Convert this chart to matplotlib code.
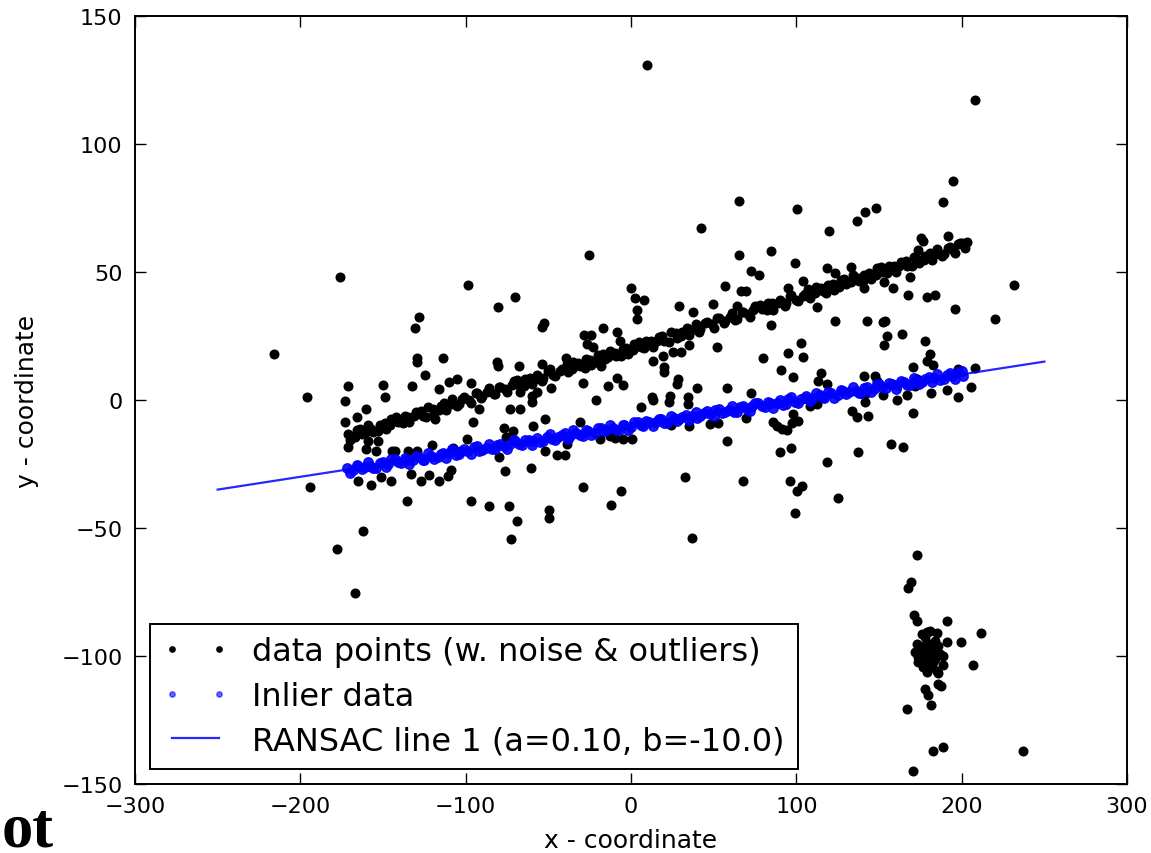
import numpy as np
import matplotlib
matplotlib.use("Agg")
import matplotlib.pyplot as plt

# scattered outliers
outlier_x = [-176, -216, -196, -171, -150, -173, -149, -160, -166, -173, -171, -160, -154,
             -153, -159, -194, -165, -157.5, -151.4, -162, -178, -167,
             -25.4, -98.4, -70.4, -80.2, -128.4, -130.9, -54, -52.4, 0, 2.4, 3.4, 3.4,
             -129.7, -129.5, -113.9, -124.6, -132.3, -116.1, -110.1, -105.5, -97,
             -81.3, -80.2, -68, -53.9, -39.5, -35.2, -28.2, -24.4, -26.8, -22.8, -17.1,
             -8.7, -6.7, -18.1, -29.2, -14.1, -8.7, -5, -21, -48.6, -60.1, -57.1, -67.2,
             -73.2, -67.2, -60.1, -91.9, -95.3, -52.3, -118.6, -144.8, -142.8,
             -134.7, -129.7, -120.2, -107.8, -103.8, -99.4, -76.8, -71.1, -75.8, -59.1,
             -79.8, -76.2, -60.7, -52, -45, -40, -38.5, -30.8, -18.7, -12.6, -9.6, -4.6,
             0.4, -29.2, -6.2, -12.3, -145.2, -133.1, -127, -122, -116, -108.9,
             -110.5, -135.7, -96.9, -86.2, -74.1, -69.1, -72.7, -49.5, -49.5, 37,
             9.5, 208,
             65.3, 100.2, 42.3, 136.5, 141.5, 148.2, 119.8, 65.3, 84.7, 99.2, 72.4, 77.6,
             118.3, 123.4, 132.9, 103.8, 56.9, 66.3, 69.4, 7.9, 29.1, 37.3, 49.4, 63.9,
             95.2, 112.3, 123.4, 142.6, 84.7, 51.8, 13.1, 19.2, 25.6, 30.1, 20.2, 20.2,
             35.3, 79.6, 95.2, 102.6, 103.8, 90.7, 97.8, 114.9, 112.9, 118.3, 28.7, 27.7,
             39.8, 58, 72.4, 12.5, 13.5, 23.6, 23.2, 34.7, 34.7, 5.8, 24, 35.1, 47.8,
             52.8, 58, 69.6, 86.1, 88.1, 91.2, 94.2, 98.2, 97.2, 101.2, 108.3, 112.3,
             133.5, 136.5, 143.5, 141.5, 141.5, 140.9, 147.6, 90.1, 96.6, 118.3, 137.5,
             32.7, 67.5, 96.2, 100.2, 103.2, 125.4, 99.2,
             194.6, 188.5, 175.4, 176.4, 191.9, 198, 203, 173.8, 169, 153, 158.3, 140.9,
             167.7, 178.8, 183.9, 231.9, 195.9, 220.2, 152.2, 153.6, 154.6, 153.2, 164.1,
             177.8, 180.8, 178.8, 182.4, 170.4, 198, 208, 148.6, 172.7, 171.7, 152.2,
             166.7, 161, 181.2, 191.4, 198, 205.6, 170.4, 157.3, 164.4]
outlier_y = [48, 18, 1.3, 5.3, 6, -0.3, 1.3, -3.5, -6.5, -8.7, -18.2, -19.1, -19.8,
             -15.9, -15.9, -33.9, -31.5, -33.2, -29.9, -51, -58.2, -75.4,
             56.8, 45, 40.4, 36.5, 32.5, 28, 28.6, 30, 43.6, 39.7, 35, 31.8,
             16.3, 14.8, 16.3, 9.9, 5.3, 4.3, 6.9, 8.2, 6.6,
             14.7, 13.4, 13.1, 14, 16.3, 12.8, 25.4, 25.4, 22, 20.7, 28,
             26.4, 23.2, 13.1, 6.6, 5.3, 8.6, 6, 0.1, 4.7, 1.7, 3, 3,
             -3.5, -3.5, -0.8, -3.5, -8.7, -7.4, -7.4, -19.8, -19.8,
             -19.8, -19.8, -17.6, -18.9, -20.2, -15.2, -10.9, -12.2, -14.5, -10.3,
             -22.4, -27.6, -26.7, -19.8, -21.5, -21.5, -17.2, -8.7, -15.2, -13.9, -14.8, -15.2,
             -15.2, -34.1, -35.4, -41, -31.5, -28.9, -31.5, -29.3, -31.5, -27.2,
             -29.8, -39.3, -39.3, -41.6, -41.6, -47.4, -54.3, -42.9, -45.9, -54,
             131, 117,
             77.9, 74.6, 67, 70, 73.3, 74.9, 66.1, 56.6, 58.2, 53.4, 50.4, 48.7,
             51.4, 49.5, 52.1, 46.6, 44.4, 42.7, 42.7, 39.2, 36.6, 34.2, 37.5, 36.9,
             43.6, 36.4, 30.9, 30.9, 29.4, 20.8, 15.4, 17.3, 18.6, 18.6, 12.8, 10.8,
             21.5, 16.3, 18.2, 22.1, 16.8, 11.6, 9, 10.5, 7.3, 6.4, 8.2, 6.3,
             4.5, 4.5, 2.9, 1.3, 0.1, 1.6, -0.8, 1, -1.6, -2.6, -9.6, -10.3, -9.2,
             -8.9, -15.9, -7.2, -8.7, -10, -11.3, -11.9, -5.6, -9.1, -8.1, -2.4, -1.7,
             -4.3, -6.7, -6.1, 2.3, -0.9, 9.5, 9.5, -20.4, -18.9, -24.4, -20.4,
             -30.2, -31.5, -31.5, -35.4, -33.5, -38.2, -44,
             85.7, 77.2, 63.2, 62.3, 64, 61, 61.6, 58.7, 48.2, 46.2, 43.6, 43.6,
             41.1, 40.4, 41.1, 45, 35.5, 31.6, 30.5, 30.9, 24.9, 21.6, 25.8,
             23.2, 18, 15.4, 13.7, 12.8, 12.1, 12.4, 7.5, 8.2, 5.6, 2,
             2, -0.1, 2.9, 3.8, 1, 4.9, -5.1, -17.2, -18.2]

# second (unfitted) line of points, two passes to get the dense band
upper_x = [-171, -167, -164, -160, -157, -153, -149, -146, -142, -138, -135, -131, -127,
           -124, -120, -116, -113, -109, -105, -102, -98, -94, -91, -87, -83, -80, -76,
           -72, -69, -65, -61, -58, -54, -50, -47, -43, -39, -36, -32, -28, -25, -21,
           -17, -14, -10, -6, -3, 1, 5, 8, 12, 16, 19, 23, 27, 30, 34, 38, 41, 45, 49,
           52, 56, 60, 63, 67, 71, 74, 78, 82, 85, 89, 93, 96, 100, 104, 107, 111, 115,
           118, 122, 126, 129, 133, 137, 140, 144, 148, 151, 155, 159, 162, 166, 170,
           173, 177, 181, 184, 188, 192, 195, 199, 202]
upper_y = [-13.4, -14.5, -11.3, -12.4, -11.2, -12.2, -8.8, -9.9, -6.6, -8.9, -6.5, -6.4,
           -4.2, -6.6, -3.4, -4.1, -1.2, -1.7, -2.5, 0.5, 0.1, 2.9, 0.8, 3.0, 2.2, 5.1,
           4.2, 5.9, 7.8, 5.6, 8.5, 8.3, 7.5, 11.3, 9.8, 11.4, 14.1, 12.3, 14.5, 12.5,
           15.8, 14.7, 18.1, 16.8, 18.2, 17.2, 20.4, 19.5, 22.8, 20.3, 22.9, 23.0, 25.0,
           22.8, 26.0, 25.1, 28.2, 27.7, 26.7, 29.9, 29.5, 32.1, 30.2, 32.4, 31.4, 34.5,
           33.6, 35.1, 37.2, 35.0, 37.7, 37.7, 36.9, 40.5, 39.2, 40.8, 43.3, 41.7, 43.9,
           41.7, 45.2, 44.1, 47.3, 46.2, 47.6, 46.4, 49.8, 48.9, 52.0, 49.7, 52.3, 52.2,
           54.4, 52.2, 55.2, 54.5, 57.6, 56.9, 56.1, 59.3, 58.7, 61.5, 59.4]
upper_x2 = [-170, -166, -163, -159, -156, -152, -148, -145, -141, -137, -134, -130, -126,
            -123, -119, -115, -112, -108, -104, -101, -97, -93, -90, -86, -82, -79, -75,
            -71, -68, -64, -60, -57, -53, -49, -46, -42, -38, -35, -31, -27, -24, -20,
            -16, -13, -9, -5, -2, 2, 6, 9, 13, 17, 20, 24, 28, 31, 35, 39, 42, 46, 50,
            53, 57, 61, 64, 68, 72, 75, 79, 83, 86, 90, 94, 97, 101, 105, 108, 112, 116,
            119, 123, 127, 130, 134, 138, 141, 145, 149, 152, 156, 160, 163, 167, 171,
            174, 178, 182, 185, 189, 193, 196, 200]
upper_y2 = [-15.7, -11.8, -13.2, -9.9, -12.4, -9.6, -11.4, -7.4, -8.6, -6.3, -8.7, -4.8,
            -6.2, -2.8, -5.2, -2.5, -4.0, 0.3, -1.5, 1.1, -1.1, 2.8, 1.4, 4.7, 2.4, 5.0,
            3.2, 7.4, 6.0, 8.3, 6.1, 9.8, 8.4, 12.0, 9.4, 12.1, 10.8, 14.9, 13.1, 15.9,
            13.5, 17.4, 16.2, 19.3, 17.0, 19.8, 17.8, 22.0, 20.8, 22.9, 20.7, 24.6, 23.0,
            26.6, 24.2, 26.7, 25.4, 29.7, 27.7, 30.5, 28.3, 32.0, 30.8, 34.1, 31.6, 34.4,
            32.6, 36.6, 35.4, 37.7, 35.3, 39.2, 37.8, 41.2, 38.8, 41.5, 40.0, 44.3, 42.5,
            45.1, 42.9, 46.8, 45.4, 48.7, 46.4, 49.0, 47.2, 51.4, 50.0, 52.3, 50.1, 53.8,
            52.4, 56.0, 53.4, 56.1, 54.8, 58.9, 57.1, 59.9, 57.5, 61.4]

# cluster at bottom right
cluster_x = [173.2, 169.2, 167.7, 171.4, 173.2, 191.3, 211.5, 199.4, 206.6, 166.7, 182.4,
             188.9, 236.9, 170.4, 175.8, 180.8, 184.9, 177.8, 172.8, 176.8, 180.8, 185.9,
             190.9, 171.8, 175.8, 178.8, 181.8, 186.9, 173.8, 177.8, 181.8, 188.9, 173.8,
             177.8, 182.9, 188.5, 178.8, 184.9, 185.9, 177.8, 179.8, 181.2, 185.9, 187.3,
             174.8, 179.8, 183.8, 176.8, 181.8, 178.8, 183.8]
cluster_y = [-60.4, -71.2, -73.6, -84, -86.2, -86.2, -91, -94.6, -103.4, -120.7, -137,
             -135.7, -137, -144.8, -91.4, -90.1, -91, -92.7, -95.3, -96, -95.3, -96,
             -94.6, -98.6, -97.9, -99.2, -98.6, -99.2, -100.5, -101.2, -100.5, -100.1, -102.5,
             -103.1, -102.5, -103.5, -106.1, -105.7, -106.6, -112.9, -115.1, -119, -110.9, -111.8,
             -96.6, -97.3, -101.2, -104.4, -104.4, -90.8, -94]

# inliers of the RANSAC fit
inlier_x = [-172, -168, -165, -161, -158, -154, -150, -147, -143, -139, -136, -132, -128,
            -125, -121, -117, -114, -110, -106, -103, -99, -95, -92, -88, -84, -81, -77,
            -73, -70, -66, -62, -59, -55, -51, -48, -44, -40, -37, -33, -29, -26, -22,
            -18, -15, -11, -7, -4, 0, 4, 7, 11, 15, 18, 22, 26, 29, 33, 37, 40, 44, 48,
            51, 55, 59, 62, 66, 70, 73, 77, 81, 84, 88, 92, 95, 99, 103, 106, 110, 114,
            117, 121, 125, 128, 132, 136, 139, 143, 147, 150, 154, 158, 161, 165, 169,
            172, 176, 180, 183, 187, 191, 194, 198, 201,
            -170, -166, -163, -159, -156, -152, -148, -145, -141, -137, -134, -130, -126,
            -123, -119, -115, -112, -108, -104, -101, -97, -93, -90, -86, -82, -79, -75,
            -71, -68, -64, -60, -57, -53, -49, -46, -42, -38, -35, -31, -27, -24, -20,
            -16, -13, -9, -5, -2, 2, 6, 9, 13, 17, 20, 24, 28, 31, 35, 39, 42, 46, 50,
            53, 57, 61, 64, 68, 72, 75, 79, 83, 86, 90, 94, 97, 101, 105, 108, 112, 116,
            119, 123, 127, 130, 134, 138, 141, 145, 149, 152, 156, 160, 163, 167, 171,
            174, 178, 182, 185, 189, 193, 196, 200]
inlier_y = [-26.7, -27.5, -25.6, -26.3, -25.7, -26.4, -24.4, -25.1, -23.2, -24.7, -23.3,
            -23.3, -22.1, -23.6, -21.7, -22.2, -20.6, -20.9, -21.5, -19.8, -20.1, -18.5,
            -19.8, -18.6, -19.1, -17.4, -18.1, -17.1, -16.0, -17.4, -15.8, -16.0, -16.5,
            -14.3, -15.3, -14.4, -12.9, -14.0, -12.8, -14.0, -12.1, -12.9, -10.9, -11.7,
            -11.0, -11.7, -9.8, -10.4, -8.5, -10.1, -8.6, -8.6, -7.5, -8.9, -7.0, -7.6,
            -5.9, -6.2, -6.9, -5.1, -5.4, -3.9, -5.1, -3.9, -4.5, -2.7, -3.4, -2.5, -1.3,
            -2.7, -1.2, -1.3, -1.8, 0.3, -0.6, 0.3, 1.7, 0.7, 1.9, 0.6, 2.6, 1.8, 3.7,
            3.0, 3.7, 2.9, 4.9, 4.3, 6.1, 4.6, 6.1, 6.0, 7.2, 5.8, 7.6, 7.1, 8.8, 8.4,
            7.8, 9.6, 9.2, 10.8, 9.5,
            -28.4, -25.4, -26.8, -24.3, -26.6, -24.5, -26.3, -23.2, -24.4, -22.8, -25.0,
            -22.0, -23.4, -20.8, -23.1, -21.1, -22.5, -19.2, -21.0, -19.0, -21.1, -18.1,
            -19.5, -17.0, -19.2, -17.2, -19.0, -15.8, -17.1, -15.5, -17.6, -14.7, -16.1,
            -13.4, -15.8, -13.8, -15.1, -11.9, -13.7, -11.6, -13.8, -10.8, -12.1, -9.7,
            -11.9, -9.8, -11.7, -8.5, -9.7, -8.2, -10.3, -7.3, -8.8, -6.1, -8.4, -6.5,
            -7.8, -4.5, -6.4, -4.3, -6.4, -3.5, -4.8, -2.3, -4.6, -2.5, -4.3, -1.2, -2.4,
            -0.8, -3.0, 0.0, -1.4, 1.2, -1.1, 0.9, -0.5, 2.8, 1.0, 3.0, 0.9, 3.9, 2.5,
            5.0, 2.8, 4.8, 3.0, 6.2, 4.9, 6.5, 4.4, 7.3, 5.9, 8.6, 6.2, 8.2, 6.9, 10.1,
            8.3, 10.4, 8.2, 11.2]

# fitted line
line_x = [-250, 250]
line_a = 0.10
line_b = -10.0

data_x = np.array(outlier_x + upper_x + upper_x2 + cluster_x)
data_y = np.array(outlier_y + upper_y + upper_y2 + cluster_y)
line_y = [line_a * v + line_b for v in line_x]

fig = plt.figure(figsize=(11.51, 8.54), dpi=100)
ax = fig.add_axes([0.1173, 0.0808, 0.8619, 0.8993])

ax.plot(data_x, data_y, linestyle="none", marker="o", ms=6.2, color="k",
        mec="k", label="data points (w. noise & outliers)")
ax.plot(inlier_x, inlier_y, linestyle="none", marker="o", ms=6.8, color="b",
        mec="b", alpha=0.9, label="Inlier data")
ax.plot(line_x, line_y, color="b", lw=1.6, alpha=0.85,
        label="RANSAC line 1 (a=%.2f, b=%.1f)" % (line_a, line_b))

ax.set_xlim(-300, 300)
ax.set_ylim(-150, 150)
ax.set_xticks(range(-300, 301, 100))
ax.set_yticks(range(-150, 151, 50))
ax.tick_params(direction="in", top=True, right=True, length=8, width=1,
               labelsize=16, pad=9)
for s in ax.spines.values():
    s.set_linewidth(1.4)

ax.set_xlabel("x - coordinate", fontsize=18, labelpad=8)
ax.set_ylabel("y - coordinate", fontsize=18, labelpad=16)

leg = ax.legend(loc="lower left", numpoints=2, fontsize=23,
                fancybox=False, framealpha=1, handlelength=2.05,
                handletextpad=0.75, borderpad=0.4, labelspacing=0.42,
                borderaxespad=0.47)
leg.get_frame().set_edgecolor("k")
leg.get_frame().set_linewidth(1.4)
hs = leg.legend_handles
hs[0].set_markersize(3.8)
hs[1].set_markersize(3.8)
hs[1].set_alpha(0.6)

fig.text(0.001, 0.009, "ot", fontfamily="Liberation Serif", fontweight="bold",
         fontsize=45, ha="left", va="baseline")

fig.savefig("out.png", dpi=100)
